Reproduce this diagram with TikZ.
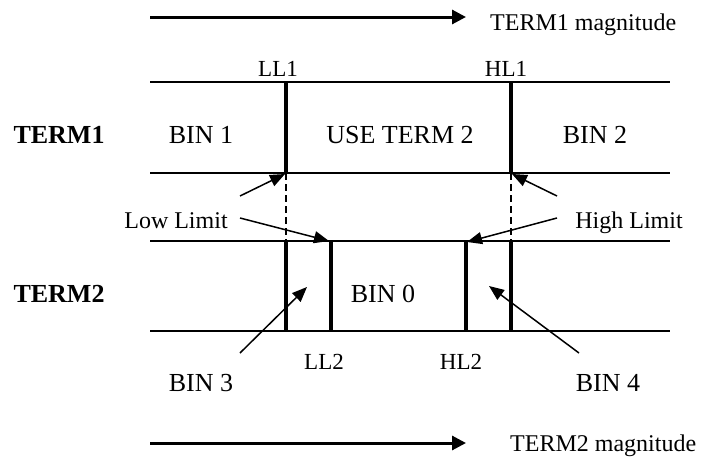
\documentclass[tikz,border=0pt]{standalone}
\usepackage{fontspec}
\setmainfont{Liberation Serif}
\usetikzlibrary{arrows.meta}
\begin{document}
\begin{tikzpicture}[x=1pt,y=-1pt,
  lane/.style={line width=1.5pt},
  limit/.style={line width=4pt},
  guide/.style={line width=1.3pt,dash pattern=on 7pt off 4pt},
  pointer/.style={line width=1.5pt,-{Triangle[length=15pt,width=12pt]}},
  magarrow/.style={line width=3pt,-{Triangle[length=14pt,width=14pt]}},
  big/.style={inner sep=0pt,anchor=base,font=\fontsize{26}{28}\selectfont},
  mid/.style={inner sep=0pt,anchor=base,font=\fontsize{24}{26}\selectfont},
  small/.style={inner sep=0pt,anchor=base,font=\fontsize{23}{25}\selectfont}]
\useasboundingbox (0,0) rectangle (702,466);
% magnitude arrows
\coordinate (m1a) at (150,17); \coordinate (m1b) at (466,17);
\coordinate (m2a) at (150,443); \coordinate (m2b) at (466,443);
\draw[magarrow] (m1a) -- (m1b);
\draw[magarrow] (m2a) -- (m2b);
\node[mid,anchor=base west] (mag1) at (490,30) {TERM1 magnitude};
\node[mid,anchor=base west] (mag2) at (510,451) {TERM2 magnitude};
% lane lines
\coordinate (t1a) at (150,82);  \coordinate (t1b) at (670,82);
\coordinate (t1c) at (150,173); \coordinate (t1d) at (670,173);
\coordinate (t2a) at (150,241); \coordinate (t2b) at (670,241);
\coordinate (t2c) at (150,331); \coordinate (t2d) at (670,331);
\draw[lane] (t1a) -- (t1b);
\draw[lane] (t1c) -- (t1d);
\draw[lane] (t2a) -- (t2b);
\draw[lane] (t2c) -- (t2d);
% limit lines
\coordinate (ll1t) at (286,82);  \coordinate (ll1b) at (286,173);
\coordinate (hl1t) at (511,82);  \coordinate (hl1b) at (511,173);
\coordinate (ll1u) at (286,241); \coordinate (ll1v) at (286,331);
\coordinate (hl1u) at (511,241); \coordinate (hl1v) at (511,331);
\coordinate (ll2t) at (331,241); \coordinate (ll2b) at (331,331);
\coordinate (hl2t) at (466,241); \coordinate (hl2b) at (466,331);
\draw[limit] (ll1t) -- (ll1b);
\draw[limit] (hl1t) -- (hl1b);
\draw[limit] (ll1u) -- (ll1v);
\draw[limit] (hl1u) -- (hl1v);
\draw[limit] (ll2t) -- (ll2b);
\draw[limit] (hl2t) -- (hl2b);
\draw[guide] (ll1b) -- (ll1u);
\draw[guide] (hl1b) -- (hl1u);
% labels
\node[small] (LL1) at (278,76) {LL1};
\node[small] (HL1) at (506,76) {HL1};
\node[small] (LL2) at (324,369) {LL2};
\node[small] (HL2) at (461,369) {HL2};
\node[big,font=\fontsize{26}{28}\selectfont\bfseries] (T1) at (59,143) {TERM1};
\node[big,font=\fontsize{26}{28}\selectfont\bfseries] (T2) at (59,302) {TERM2};
\node[big] (B1) at (201,143) {BIN 1};
\node[big] (UT) at (400,143) {USE TERM 2};
\node[big] (B2) at (595,143) {BIN 2};
\node[big] (B0) at (383,302) {BIN 0};
\node[big] (B3) at (201,391) {BIN 3};
\node[big] (B4) at (608,391) {BIN 4};
\node[mid] (LoL) at (176,228) {Low Limit};
\node[mid] (HiL) at (629,228) {High Limit};
% pointers
\coordinate (p1) at (240,196); \coordinate (p2) at (240,218);
\coordinate (p3) at (557,196); \coordinate (p4) at (557,218);
\coordinate (p5) at (240,353); \coordinate (p6) at (579,353);
\coordinate (q1) at (285,174); \coordinate (q2) at (329,241);
\coordinate (q3) at (512,174); \coordinate (q4) at (467,242);
\coordinate (q5) at (307,287); \coordinate (q6) at (489,286);
\draw[pointer] (p1) -- (q1);
\draw[pointer] (p2) -- (q2);
\draw[pointer] (p3) -- (q3);
\draw[pointer] (p4) -- (q4);
\draw[pointer] (p5) -- (q5);
\draw[pointer] (p6) -- (q6);
\end{tikzpicture}
\end{document}
